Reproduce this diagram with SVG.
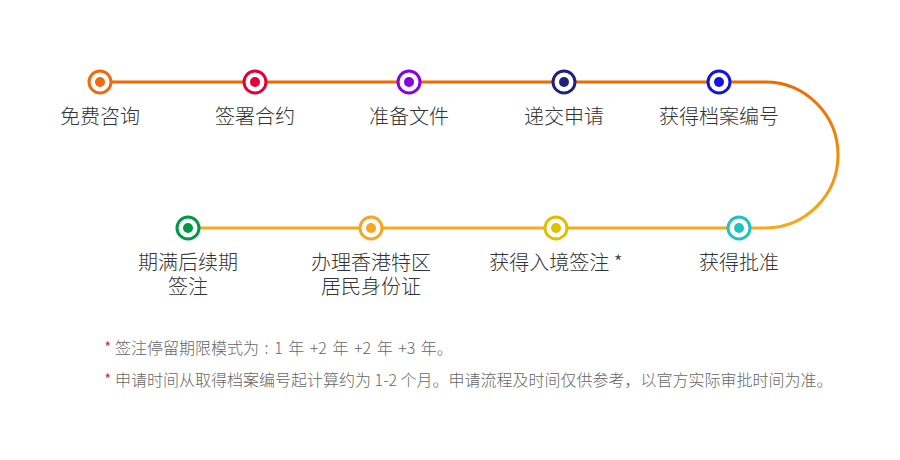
<svg xmlns="http://www.w3.org/2000/svg" width="900" height="460" viewBox="0 0 900 460">
  <defs>
    <linearGradient id="arcGrad" x1="0" y1="82" x2="0" y2="228" gradientUnits="userSpaceOnUse">
      <stop offset="0" stop-color="#ee6a00"/>
      <stop offset="1" stop-color="#f5ab1e"/>
    </linearGradient>
    <style>
      .ring { fill: #ffffff; stroke-width: 3; }
      .lbl { font-family: "Noto Sans CJK SC", "Liberation Sans", sans-serif; font-size: 20px; font-weight: 300; fill: #333333; text-anchor: middle; }
      .note { font-family: "Noto Sans CJK SC", "Liberation Sans", sans-serif; font-size: 16px; font-weight: 300; fill: #666666; }
      .star { fill: #e60012; font-size: 17px; }
    </style>
  </defs>
  <rect width="900" height="460" fill="#ffffff"/>

  <g id="connectors" fill="none" stroke-width="3">
    <line x1="100" y1="82" x2="765" y2="82" stroke="#ee6a00"/>
    <path d="M765 82 A73 73 0 0 1 765 228" stroke="url(#arcGrad)"/>
    <line x1="188" y1="228" x2="765" y2="228" stroke="#f5ab1e"/>
  </g>

  <g id="node1">
    <circle class="ring" cx="100" cy="82" r="11" stroke="#ee6a10"/>
    <circle cx="100" cy="82" r="5" fill="#ee6a10"/>
    <text class="lbl" x="100" y="124">免费咨询</text>
  </g>
  <g id="node2">
    <circle class="ring" cx="255" cy="82" r="11" stroke="#e5003c"/>
    <circle cx="255" cy="82" r="5" fill="#e5003c"/>
    <text class="lbl" x="255" y="124">签署合约</text>
  </g>
  <g id="node3">
    <circle class="ring" cx="409" cy="82" r="11" stroke="#8a00e0"/>
    <circle cx="409" cy="82" r="5" fill="#8a00e0"/>
    <text class="lbl" x="409" y="124">准备文件</text>
  </g>
  <g id="node4">
    <circle class="ring" cx="564" cy="82" r="11" stroke="#1f2080"/>
    <circle cx="564" cy="82" r="5" fill="#1f2080"/>
    <text class="lbl" x="564" y="124">递交申请</text>
  </g>
  <g id="node5">
    <circle class="ring" cx="719" cy="82" r="11" stroke="#1414e0"/>
    <circle cx="719" cy="82" r="5" fill="#1414e0"/>
    <text class="lbl" x="719" y="124">获得档案编号</text>
  </g>
  <g id="node6">
    <circle class="ring" cx="739" cy="228" r="11" stroke="#1fc3c0"/>
    <circle cx="739" cy="228" r="5" fill="#1fc3c0"/>
    <text class="lbl" x="739" y="270">获得批准</text>
  </g>
  <g id="node7">
    <circle class="ring" cx="556" cy="228" r="11" stroke="#dec000"/>
    <circle cx="556" cy="228" r="5" fill="#dec000"/>
    <text class="lbl" x="556" y="270">获得入境签注 *</text>
  </g>
  <g id="node8">
    <circle class="ring" cx="371" cy="228" r="11" stroke="#f5a623"/>
    <circle cx="371" cy="228" r="5" fill="#f5a623"/>
    <text class="lbl" x="371" y="270"><tspan x="371" y="270">办理香港特区</tspan><tspan x="371" y="294">居民身份证</tspan></text>
  </g>
  <g id="node9">
    <circle class="ring" cx="188" cy="228" r="11" stroke="#009944"/>
    <circle cx="188" cy="228" r="5" fill="#009944"/>
    <text class="lbl" x="188" y="270"><tspan x="188" y="270">期满后续期</tspan><tspan x="188" y="294">签注</tspan></text>
  </g>

  <g id="notes">
    <text class="note" x="104" y="354"><tspan class="star">*</tspan> 签注停留期限模式为<tspan word-spacing="2"> : 1 年 +2 年 +2 年 +3 年。</tspan></text>
    <text class="note" x="104" y="386"><tspan class="star">*</tspan> 申请时间从取得档案编号起计算约为 1-2 个月。申请流程及时间仅供参考，以官方实际审批时间为准。</text>
  </g>
</svg>
